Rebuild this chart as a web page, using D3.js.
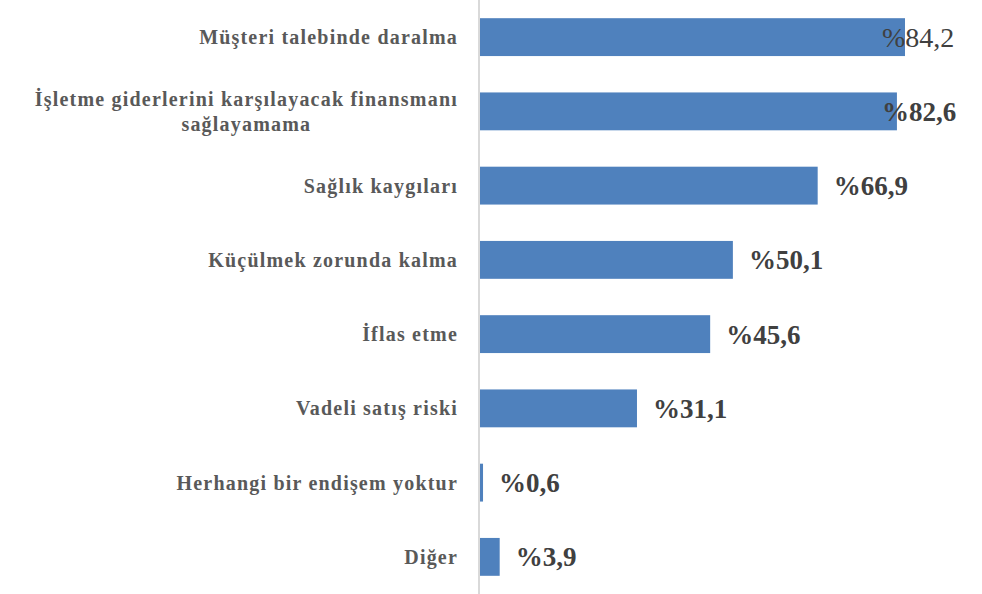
<!DOCTYPE html>
<html>
<head>
<meta charset="utf-8">
<script src="https://cdn.jsdelivr.net/npm/d3@7"></script>
<style>
  body { margin: 0; background: #fff; }
  svg { display: block; }
</style>
</head>
<body>
<div id="vis"></div>
<script>
var width = 982,
    height = 594,
    axisX = 480;

var categories = [
  ["Müşteri talebinde daralma"],
  ["İşletme giderlerini karşılayacak finansmanı", "sağlayamama"],
  ["Sağlık kaygıları"],
  ["Küçülmek zorunda kalma"],
  ["İflas etme"],
  ["Vadeli satış riski"],
  ["Herhangi bir endişem yoktur"],
  ["Diğer"]
];
var values = [84.2, 82.6, 66.9, 50.1, 45.6, 31.1, 0.6, 3.9];
var valueLabels = ["%84,2", "%82,6", "%66,9", "%50,1", "%45,6", "%31,1", "%0,6", "%3,9"];

var data = values.map(function(v, i) {
  return {name: categories[i], value: v, label: valueLabels[i], i: i};
});

var svg = d3.select("#vis").append("svg")
    .attr("width", width)
    .attr("height", height);

var x = d3.scaleLinear().domain([0, 84.2]).range([axisX, 905]);
var y = d3.scaleBand().domain(d3.range(data.length)).range([0, 594]).paddingInner(0.49).paddingOuter(0.245);

svg.selectAll(".bar").data(data).enter()
    .append("rect")
    .attr("class", "bar")
    .attr("x", axisX)
    .attr("y", function(d) { return y(d.i); })
    .attr("width", function(d) { return x(d.value) - axisX; })
    .attr("height", y.bandwidth())
    .attr("fill", "#4f81bd");

// vertical axis line
svg.append("line")
    .attr("x1", axisX - 1).attr("x2", axisX - 1)
    .attr("y1", 0).attr("y2", height)
    .attr("stroke", "#d9d9d9")
    .attr("stroke-width", 2);

var font = "'Liberation Serif', 'Times New Roman', serif";

// category labels
var labels = svg.selectAll(".cat").data(data).enter()
    .append("text")
    .attr("class", "cat")
    .attr("font-family", font)
    .attr("font-weight", "bold")
    .attr("font-size", "20px")
    .attr("letter-spacing", "1.2px")
    .attr("fill", "#595959");

labels.each(function(d) {
  var t = d3.select(this);
  var cy = y(d.i) + y.bandwidth() / 2;
  var n = d.name.length;
  var lineH = 25;
  d.name.forEach(function(line, k) {
    t.append("tspan")
      .attr("y", cy + (k - (n - 1) / 2) * lineH)
      .attr("dy", "0.35em")
      .text(line);
  });
  if (n === 1) {
    t.attr("text-anchor", "end").selectAll("tspan").attr("x", 458);
  } else {
    var maxW = 0;
    t.selectAll("tspan").each(function() { maxW = Math.max(maxW, this.getComputedTextLength()); });
    t.attr("text-anchor", "middle").selectAll("tspan").attr("x", 458 - maxW / 2);
  }
});

// value labels
svg.selectAll(".val").data(data).enter()
    .append("text")
    .attr("class", "val")
    .attr("x", function(d) { return Math.min(x(d.value) + 16, 882); })
    .attr("y", function(d) { return y(d.i) + y.bandwidth() / 2; })
    .attr("dy", "0.35em")
    .attr("font-family", font)
    .attr("font-weight", function(d) { return d.i === 0 ? "normal" : "bold"; })
    .attr("font-size", function(d) { return d.i === 0 ? "28px" : "27px"; })
    .attr("fill", "#404040")
    .text(function(d) { return d.label; });
</script>
</body>
</html>
